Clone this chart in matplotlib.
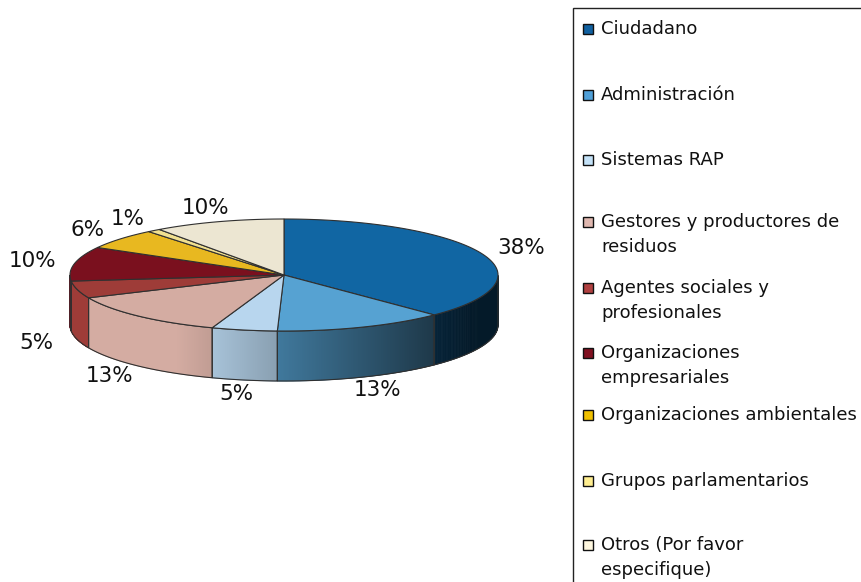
import matplotlib
matplotlib.use('Agg')
import matplotlib.pyplot as plt
import numpy as np
from matplotlib.patches import Polygon, Rectangle
from matplotlib.colors import to_rgb

#----------------------------------------------------------------------#
#                               DATA                                   #
#----------------------------------------------------------------------#
categories = ['Ciudadano', 'Administración', 'Sistemas RAP',
              'Gestores y productores de\nresiduos',
              'Agentes sociales y\nprofesionales',
              'Organizaciones\nempresariales',
              'Organizaciones ambientales',
              'Grupos parlamentarios',
              'Otros (Por favor\nespecifique)']
values = [38, 13, 5, 13, 5, 10, 6, 1, 10]
top_colors = ['#1166a3', '#56a2d2', '#b8d6ee', '#d4aca2', '#9e3c38',
              '#7a101e', '#e8b820', '#f0e090', '#ece6d2']
legend_colors = ['#1060a0', '#50a0d8', '#c4e2f8', '#e0b8b0', '#b04040',
                 '#801020', '#f0c000', '#ffee90', '#fff8e0']

# pie geometry in pixels
cx, cy = 284, 275
a, b = 214, 56
depth = 50
edge = '#303030'

fig = plt.figure(figsize=(8.62, 5.82), dpi=100)
ax = fig.add_axes([0, 0, 1, 1])
ax.set_xlim(0, 862)
ax.set_ylim(582, 0)
ax.axis('off')


def top_pt(t):
    return cx + a * np.cos(t), cy - b * np.sin(t)


def shade(x):
    u = (x - cx) / a
    return np.clip(1 - 0.54 * (u + 0.5), 0.25, 1.0)


fracs = np.array(values) / sum(values)
bounds = np.concatenate([[0], np.cumsum(fracs)])
angles = np.deg2rad(90 - 360 * bounds)   # clockwise from 12 o'clock

# side walls (front half only), shaded strip by strip
for i in range(len(values)):
    ts = np.linspace(angles[i + 1], angles[i], 200)
    ts = ts[np.sin(ts) < 0]
    if len(ts) < 2:
        continue
    base = np.array(to_rgb(top_colors[i]))
    for k in range(len(ts) - 1):
        xa, ya = top_pt(ts[k])
        xb, yb = top_pt(ts[k + 1])
        col = base * shade((xa + xb) / 2)
        ax.add_patch(Polygon([(xa, ya), (xb, yb), (xb, yb + depth), (xa, ya + depth)],
                             closed=True, facecolor=col, edgecolor=col, lw=0.6, zorder=1))
    xs, ys = top_pt(ts)
    outline = list(zip(xs, ys)) + list(zip(xs[::-1], ys[::-1] + depth))
    ax.add_patch(Polygon(outline, closed=True, facecolor='none', edgecolor=edge,
                         lw=0.8, zorder=2))

# top face wedges
for i in range(len(values)):
    ts = np.linspace(angles[i + 1], angles[i], 120)
    xs, ys = top_pt(ts)
    pts = [(cx, cy)] + list(zip(xs, ys))
    ax.add_patch(Polygon(pts, closed=True, facecolor=top_colors[i], edgecolor=edge,
                         lw=0.8, zorder=3))

# percentage labels
for i, v in enumerate(values):
    mid = (angles[i] + angles[i + 1]) / 2
    lx = cx + a * 1.2 * np.cos(mid)
    ly = cy - b * 1.25 * np.sin(mid)
    if np.sin(mid) < 0:
        ly += depth
    ax.text(lx, ly, '%d%%' % v, ha='center', va='center', fontsize=15.5,
            color='#111111', zorder=5)

# legend box
ax.add_patch(Rectangle((573, 8), 320, 600, facecolor='white', edgecolor='#222222',
                       lw=1.0, zorder=4))
entry_y = [29, 95, 160, 222, 288, 353, 415, 481, 545]
for name, col, y in zip(categories, legend_colors, entry_y):
    ax.add_patch(Rectangle((583, y - 5), 10, 10, facecolor=col, edgecolor='#111111',
                           lw=1.0, zorder=5))
    ax.text(601, y - 9, name, ha='left', va='top', fontsize=13,
            linespacing=1.5, color='#111111', zorder=5)

fig.savefig('out.png', dpi=100)
